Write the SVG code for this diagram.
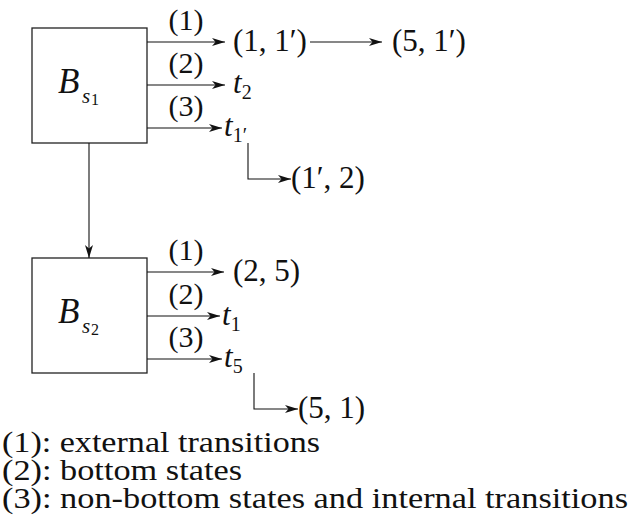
<svg xmlns="http://www.w3.org/2000/svg" width="633" height="529" viewBox="0 0 633 529">
<style>
.box{fill:#fff;stroke:#222;stroke-width:1.3}
.ln{fill:none;stroke:#111;stroke-width:1.1}
.t{font-family:"Liberation Serif","Times New Roman",serif;font-size:31px;fill:#111}
.lg{font-family:"Liberation Serif","Times New Roman",serif;font-size:30px;fill:#111}
.it{font-style:italic}
.sub{font-size:20px}
.lab{text-anchor:middle;font-size:30px}
.bb{font-family:"Liberation Serif","Times New Roman",serif;font-style:italic;font-size:35px;fill:#111}
.bs{font-family:"Liberation Serif","Times New Roman",serif;font-style:italic;font-size:21px;fill:#111}
.bn{font-family:"Liberation Serif","Times New Roman",serif;font-size:16px;fill:#111}
</style>
<defs>
<marker id="ah" markerUnits="userSpaceOnUse" markerWidth="14" markerHeight="10" refX="13" refY="4" orient="auto">
<path d="M0,0 L13,4 L0,8 L3.5,4 z" fill="#111"/>
</marker>
</defs>
<g id="node-Bs1">
<rect class="box" x="32" y="28" width="115" height="115"/>
<text class="bb" x="58" y="93">B</text>
<text class="bs" x="82" y="103">s</text>
<text class="bn" x="91" y="105">1</text>
</g>
<g id="node-Bs2">
<rect class="box" x="32" y="258" width="115" height="115"/>
<text class="bb" x="58" y="323">B</text>
<text class="bs" x="82" y="333">s</text>
<text class="bn" x="91" y="335">2</text>
</g>
<g id="node-1-1p"><text class="t" x="233" y="51">(1, 1′)</text></g>
<g id="node-5-1p"><text class="t" x="392" y="51">(5, 1′)</text></g>
<g id="node-t2"><text class="t" x="233" y="93"><tspan class="it">t</tspan><tspan class="sub" dy="6">2</tspan></text></g>
<g id="node-t1p"><text class="t" x="224" y="136"><tspan class="it">t</tspan><tspan class="sub" dy="6">1′</tspan></text></g>
<g id="node-1p-2"><text class="t" x="291" y="188">(1′, 2)</text></g>
<g id="node-2-5"><text class="t" x="233" y="281">(2, 5)</text></g>
<g id="node-t1"><text class="t" x="222" y="325"><tspan class="it">t</tspan><tspan class="sub" dy="6">1</tspan></text></g>
<g id="node-t5"><text class="t" x="224" y="367"><tspan class="it">t</tspan><tspan class="sub" dy="6">5</tspan></text></g>
<g id="node-5-1"><text class="t" x="298" y="418">(5, 1)</text></g>
<g id="connectors">
<line class="ln" x1="147" y1="42" x2="225" y2="42" marker-end="url(#ah)"/>
<line class="ln" x1="147" y1="85" x2="225" y2="85" marker-end="url(#ah)"/>
<line class="ln" x1="147" y1="128" x2="222" y2="128" marker-end="url(#ah)"/>
<line class="ln" x1="310" y1="42" x2="382" y2="42" marker-end="url(#ah)"/>
<polyline class="ln" points="248,143 248,179 291,179" marker-end="url(#ah)"/>
<line class="ln" x1="89" y1="143" x2="89" y2="258" marker-end="url(#ah)"/>
<line class="ln" x1="147" y1="272" x2="224" y2="272" marker-end="url(#ah)"/>
<line class="ln" x1="147" y1="316" x2="220" y2="316" marker-end="url(#ah)"/>
<line class="ln" x1="147" y1="359" x2="222" y2="359" marker-end="url(#ah)"/>
<polyline class="ln" points="254,373 254,409 298,409" marker-end="url(#ah)"/>
<text class="t lab" x="186" y="30">(1)</text>
<text class="t lab" x="186" y="73">(2)</text>
<text class="t lab" x="186" y="116">(3)</text>
<text class="t lab" x="186" y="260">(1)</text>
<text class="t lab" x="186" y="304">(2)</text>
<text class="t lab" x="186" y="347">(3)</text>
</g>
<g id="legend">
<text class="lg" x="2" y="452" textLength="318" lengthAdjust="spacingAndGlyphs">(1): external transitions</text>
<text class="lg" x="2" y="480" textLength="240" lengthAdjust="spacingAndGlyphs">(2): bottom states</text>
<text class="lg" x="2" y="508" textLength="626" lengthAdjust="spacingAndGlyphs">(3): non-bottom states and internal transitions</text>
</g>
</svg>
